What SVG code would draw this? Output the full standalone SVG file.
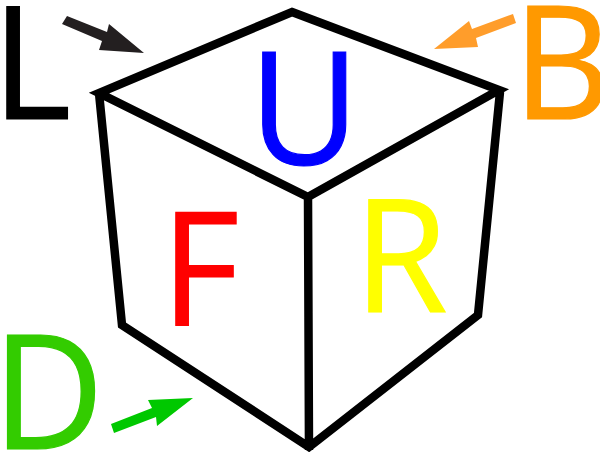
<svg xmlns="http://www.w3.org/2000/svg" width="600" height="452" viewBox="0 0 600 452">
<style>
.e{fill:none;stroke:#000;stroke-width:8.5;stroke-linejoin:miter;stroke-miterlimit:10}
.t{font-family:"Open Sans","Noto Sans",sans-serif;font-size:158px;stroke-width:1.2}
</style>
<rect width="600" height="452" fill="#fff"/>
<g id="connectors">
<path class="e" d="M292 12L499 90L308 197L99 93ZM99 93L122 325L309 447L478 315L500 92M308 197L309 450"/>
<circle cx="499" cy="92" r="5" fill="#000"/>
<path d="M62 24L67 16L107 32L109 24L144 53L99 50L102 41Z" fill="#231f20"/>
<path d="M513 14L516 23L476 38L478 47L434 49L469 21L472 29Z" fill="#ff9d2b"/>
<path d="M111 424L114 433L156 417L157 426L193 398L148 400L152 408Z" fill="#00c800"/>
</g>
<g id="L"><text class="t" transform="translate(-8 119) scale(.96 1)" fill="#000" stroke="#000">L</text></g>
<g id="B"><text class="t" transform="translate(513 119) scale(.96 1)" fill="#ff9900" stroke="#ff9900">B</text></g>
<g id="U"><text class="t" transform="translate(249 164) scale(.96 1)" fill="#0000ff" stroke="#0000ff">U</text></g>
<g id="F"><text class="t" transform="translate(161 325) scale(.96 1)" fill="#ff0000" stroke="#ff0000">F</text></g>
<g id="R"><text class="t" transform="translate(354 312) scale(.96 1)" fill="#ffff00" stroke="#ffff00">R</text></g>
<g id="D"><text class="t" transform="translate(-7.5 449) scale(.96 1)" fill="#3c0" stroke="#3c0" style="font-size:160px">D</text></g>
</svg>
